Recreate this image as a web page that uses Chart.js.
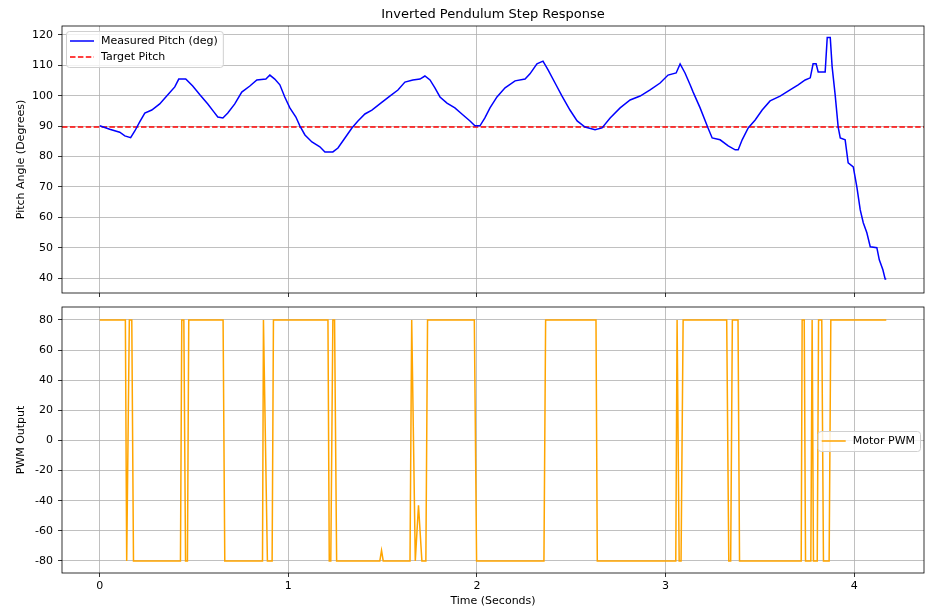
<!DOCTYPE html>
<html>
<head>
<meta charset="utf-8">
<script src="https://cdn.jsdelivr.net/npm/chart.js@4.4.1/dist/chart.umd.min.js"></script>
<style>
  body { margin: 0; background: #fff; }
  #wrap { position: relative; width: 945px; height: 615px; }
  #top { position: absolute; left: 0; top: 0; }
  #bottom { position: absolute; left: 0; top: 300px; }
</style>
</head>
<body>
<div id="wrap">
  <canvas id="top" width="945" height="300"></canvas>
  <canvas id="bottom" width="945" height="315"></canvas>
</div>
<script>
// measured pitch
const pitchTime = [0, 0.053, 0.106, 0.133, 0.164, 0.186, 0.212, 0.239, 0.276, 0.318, 0.361, 0.398, 0.419, 0.456,
  0.493, 0.531, 0.573, 0.605, 0.626, 0.653, 0.679, 0.716, 0.753, 0.796, 0.833, 0.881, 0.902, 0.928, 0.955, 0.981,
  1.008, 1.040, 1.061, 1.088, 1.125, 1.167, 1.194, 1.236, 1.263, 1.300, 1.337, 1.369, 1.406, 1.443, 1.485, 1.538,
  1.581, 1.618, 1.660, 1.698, 1.724, 1.751, 1.777, 1.804, 1.841, 1.883, 1.920, 1.963, 1.989, 2.016, 2.042, 2.069,
  2.106, 2.149, 2.202, 2.255, 2.281, 2.318, 2.350, 2.377, 2.414, 2.451, 2.493, 2.531, 2.573, 2.626, 2.663, 2.706,
  2.759, 2.812, 2.865, 2.918, 2.971, 3.013, 3.056, 3.077, 3.103, 3.130, 3.146, 3.183, 3.225, 3.247, 3.289, 3.332,
  3.369, 3.385, 3.406, 3.438, 3.475, 3.512, 3.554, 3.607, 3.660, 3.703, 3.740, 3.767, 3.782, 3.798, 3.809, 3.846,
  3.857, 3.873, 3.883, 3.899, 3.915, 3.926, 3.952, 3.968, 3.995, 4.014, 4.032, 4.048, 4.067, 4.085, 4.120, 4.133,
  4.152, 4.164, 4.170];
const pitchDeg = [90.1, 89.0, 88.0, 86.8, 86.2, 88.4, 91.4, 94.3, 95.3, 97.3, 100.3, 102.9, 105.5, 105.5,
  103.2, 100.3, 97.3, 94.7, 93.0, 92.7, 94.3, 97.3, 101.2, 103.2, 105.2, 105.5, 106.8, 105.5, 103.6, 99.6,
  96.0, 93.0, 90.1, 87.1, 84.8, 83.2, 81.5, 81.5, 82.8, 86.1, 89.4, 91.7, 94.0, 95.3, 97.3, 99.9,
  101.9, 104.5, 105.2, 105.5, 106.5, 105.2, 102.6, 99.6, 97.6, 96.0, 94.0, 91.7, 90.1, 90.1, 92.7, 96.0,
  99.6, 102.6, 104.9, 105.5, 107.2, 110.5, 111.4, 108.5, 104.2, 99.9, 95.3, 91.7, 89.7, 88.8, 89.4, 92.7,
  96.0, 98.6, 99.9, 101.9, 104.2, 106.8, 107.5, 110.5, 107.5, 103.6, 101.2, 96.0, 89.4, 86.1, 85.5, 83.5,
  82.2, 82.2, 85.5, 89.4, 92.0, 95.3, 98.3, 99.9, 101.9, 103.6, 105.2, 105.9, 110.5, 110.5, 107.8, 107.8,
  119.2, 119.2, 109.5, 100.3, 89.7, 86.1, 85.5, 77.9, 76.6, 70.0, 62.4, 58.2, 54.9, 50.3, 50.0, 46.0,
  42.7, 39.7, 39.7];
const targetPitch = 89.7;

// motor pwm breakpoints
const pwmTime = [0, 0.136, 0.143, 0.157, 0.170, 0.179, 0.428, 0.435, 0.446, 0.455, 0.465, 0.472, 0.654, 0.663,
  0.863, 0.868, 0.889, 0.914, 0.921, 1.210, 1.217, 1.225, 1.236, 1.245, 1.256, 1.485, 1.494, 1.503, 1.645, 1.654,
  1.673, 1.690, 1.708, 1.729, 1.738, 1.986, 1.998, 2.355, 2.364, 2.631, 2.638, 3.054, 3.061, 3.072, 3.082, 3.093,
  3.324, 3.335, 3.345, 3.354, 3.384, 3.392, 3.719, 3.724, 3.735, 3.742, 3.770, 3.777, 3.784, 3.804, 3.811, 3.828,
  3.837, 3.867, 3.876, 4.170];
const pwmValue = [80, 80, -80, 80, 80, -80, -80, 80, 80, -80, -80, 80, 80, -80,
  -80, 80, -80, -80, 80, 80, -80, -80, 80, 80, -80, -80, -73, -80, -80, 80,
  -80, -43, -80, -80, 80, 80, -80, -80, 80, 80, -80, -80, 80, -80, -80, 80,
  80, -80, -80, 80, 80, -80, -80, 80, 80, -80, -80, 80, -80, -80, 80, 80,
  -80, -80, 80, 80];

const xRange = [-0.2, 4.37];
const xTicks = [0, 1, 2, 3, 4];
const pitchRange = [35.07, 122.96];
const pitchTicks = [40, 50, 60, 70, 80, 90, 100, 110, 120];
const pwmRange = [-88, 88.6];
const pwmTicks = [-80, -60, -40, -20, 0, 20, 40, 60, 80];

const FONT = "'DejaVu Sans', sans-serif";
const font11 = { family: FONT, size: 11 };

function pairs(xs, ys) {
  return xs.map((x, i) => ({ x: x, y: ys[i] }));
}
function fixedTicks(list) {
  return scale => { scale.ticks = list.map(v => ({ value: v })); };
}
// fixed axis size, and no extra room for half tick labels
function fixWidth(w) {
  return s => { s.width = w; s.paddingTop = 0; s.paddingBottom = 0; };
}
function fixHeight(h) {
  return s => { s.height = h; s.paddingLeft = 0; s.paddingRight = 0; };
}

// black box round the axes, like matplotlib spines, plus a title centred over them
const frame = {
  id: 'frame',
  afterDraw(chart, args, opts) {
    const { ctx, chartArea: a } = chart;
    ctx.save();
    ctx.strokeStyle = '#000';
    ctx.lineWidth = 0.8;
    ctx.strokeRect(a.left, a.top, a.right - a.left, a.bottom - a.top);
    if (opts.title) {
      ctx.fillStyle = '#000';
      ctx.font = '13px ' + FONT;
      ctx.textAlign = 'center';
      ctx.textBaseline = 'middle';
      ctx.fillText(opts.title, (a.left + a.right) / 2, a.top - 11);
    }
    ctx.restore();
  }
};

// legend box inside the plot area
const boxLegend = {
  id: 'boxLegend',
  afterDraw(chart, args, opts) {
    const { ctx, chartArea: a } = chart;
    const items = chart.data.datasets.filter(d => d.label);
    ctx.save();
    ctx.font = '11px ' + FONT;
    let tw = 0;
    items.forEach(d => { tw = Math.max(tw, ctx.measureText(d.label).width); });
    const w = 35 + tw + 5;
    const h = items.length * 16 + 4;
    let left, top;
    if (opts.place === 'upper left') {
      left = a.left + 4; top = a.top + 5;
    } else {
      left = a.right - 4 - w; top = (a.top + a.bottom) / 2 - h / 2 + 1;
    }
    ctx.fillStyle = 'rgba(255,255,255,0.8)';
    ctx.strokeStyle = '#d0d0d0';
    ctx.lineWidth = 1;
    ctx.beginPath();
    ctx.roundRect(left + 0.5, top + 0.5, w, h, 3);
    ctx.fill();
    ctx.stroke();
    items.forEach((d, i) => {
      const cy = top + 10 + i * 16;
      ctx.strokeStyle = d.borderColor;
      ctx.lineWidth = d.borderWidth;
      ctx.setLineDash(d.borderDash || []);
      ctx.beginPath();
      ctx.moveTo(left + 4, cy);
      ctx.lineTo(left + 28, cy);
      ctx.stroke();
      ctx.setLineDash([]);
      ctx.fillStyle = '#000';
      ctx.textBaseline = 'middle';
      ctx.fillText(d.label, left + 35, cy);
    });
    ctx.restore();
  }
};

const gridStyle = { color: '#b0b0b0', lineWidth: 0.8, tickLength: 4, tickColor: '#000' };

const topChart = new Chart(document.getElementById('top'), {
  type: 'line',
  data: {
    datasets: [
      {
        label: 'Measured Pitch (deg)',
        data: pairs(pitchTime, pitchDeg),
        borderColor: '#0000ff',
        borderWidth: 1.5,
        pointRadius: 0,
        tension: 0
      },
      {
        label: 'Target Pitch',
        data: pairs(xRange, [targetPitch, targetPitch]),
        borderColor: '#ff0000',
        borderWidth: 1.5,
        borderDash: [5.5, 2.4],
        pointRadius: 0
      }
    ]
  },
  options: {
    responsive: false,
    animation: false,
    layout: { padding: { top: 26, right: 21, bottom: 0, left: 0 } },
    plugins: {
      legend: { display: false },
      tooltip: { enabled: false },
      frame: { title: 'Inverted Pendulum Step Response' },
      boxLegend: { place: 'upper left' }
    },
    scales: {
      x: {
        type: 'linear',
        min: xRange[0],
        max: xRange[1],
        afterBuildTicks: fixedTicks(xTicks),
        ticks: { display: false },
        grid: gridStyle,
        border: { display: false },
        afterFit: fixHeight(7)
      },
      y: {
        min: pitchRange[0],
        max: pitchRange[1],
        afterBuildTicks: fixedTicks(pitchTicks),
        ticks: { color: '#000', font: font11, padding: 5 },
        grid: gridStyle,
        border: { display: false },
        title: {
          display: true,
          text: 'Pitch Angle (Degrees)',
          color: '#000',
          font: font11,
          padding: { top: 15, bottom: 0 }
        },
        afterFit: fixWidth(62)
      }
    }
  },
  plugins: [frame, boxLegend]
});

const bottomChart = new Chart(document.getElementById('bottom'), {
  type: 'line',
  data: {
    datasets: [
      {
        label: 'Motor PWM',
        data: pairs(pwmTime, pwmValue),
        borderColor: '#ffa500',
        borderWidth: 1.5,
        pointRadius: 0,
        tension: 0
      }
    ]
  },
  options: {
    responsive: false,
    animation: false,
    layout: { padding: { top: 7, right: 21, bottom: 0, left: 0 } },
    plugins: {
      legend: { display: false },
      tooltip: { enabled: false },
      boxLegend: { place: 'center right' }
    },
    scales: {
      x: {
        type: 'linear',
        min: xRange[0],
        max: xRange[1],
        afterBuildTicks: fixedTicks(xTicks),
        ticks: { color: '#000', font: font11, padding: 3, maxRotation: 0 },
        grid: gridStyle,
        border: { display: false },
        title: {
          display: true,
          text: 'Time (Seconds)',
          color: '#000',
          font: font11,
          padding: { top: 2, bottom: 7 }
        },
        afterFit: fixHeight(42)
      },
      y: {
        min: pwmRange[0],
        max: pwmRange[1],
        afterBuildTicks: fixedTicks(pwmTicks),
        ticks: { color: '#000', font: font11, padding: 5 },
        grid: gridStyle,
        border: { display: false },
        title: {
          display: true,
          text: 'PWM Output',
          color: '#000',
          font: font11,
          padding: { top: 15, bottom: 0 }
        },
        afterFit: fixWidth(62)
      }
    }
  },
  plugins: [frame, boxLegend]
});
</script>
</body>
</html>
